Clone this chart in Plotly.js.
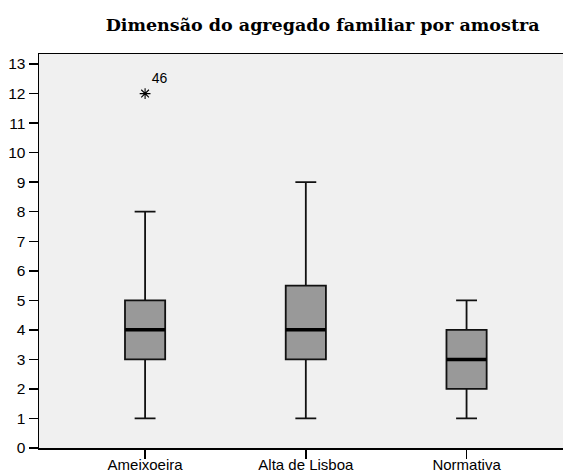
<!DOCTYPE html>
<html>
<head>
<meta charset="utf-8">
<script src="https://cdn.plot.ly/plotly-3.0.1.min.js"></script>
<style>html,body{margin:0;padding:0;background:#fff;}#chart{width:563px;height:475px;}</style>
</head>
<body>
<div id="chart"></div>
<script>
var categories = ["Ameixoeira", "Alta de Lisboa", "Normativa"];
var lowerFence = [1, 1, 1];
var q1 = [3, 3, 2];
var median = [4, 4, 3];
var q3 = [5, 5.5, 4];
var upperFence = [8, 9, 5];
var outlierCategory = ["Ameixoeira"];
var outlierValue = [12];
var outlierLabel = ["46"];
var yTicks = [0,1,2,3,4,5,6,7,8,9,10,11,12,13];

var boxTrace = {
  type: "box",
  x: categories,
  q1: q1,
  median: median,
  q3: q3,
  lowerfence: lowerFence,
  upperfence: upperFence,
  boxpoints: false,
  fillcolor: "#999999",
  line: {color: "#111111", width: 1.8},
  width: 0.25,
  whiskerwidth: 0.52,
  hoverinfo: "skip",
  showlegend: false
};

var medianTrace = {
  type: "scatter",
  mode: "markers",
  x: categories,
  y: median,
  marker: {symbol: "line-ew-open", size: 28.5, color: "#000", line: {color: "#000", width: 3.5}},
  hoverinfo: "skip",
  showlegend: false
};

var outlierTrace = {
  type: "scatter",
  mode: "markers+text",
  x: outlierCategory,
  y: outlierValue,
  text: outlierLabel,
  textposition: "top right",
  textfont: {family: "Liberation Sans, Arial, sans-serif", size: 14, color: "#000"},
  marker: {symbol: "asterisk-open", size: 9, color: "#000", line: {color: "#000", width: 1.1}},
  hoverinfo: "skip",
  showlegend: false
};

var layout = {
  width: 563,
  height: 475,
  margin: {l: 39, r: 0, t: 54, b: 27},
  paper_bgcolor: "#ffffff",
  plot_bgcolor: "#f0f0f0",
  title: {
    text: "Dimensão do agregado familiar por amostra",
    font: {family: "DejaVu Serif, serif", size: 17.5, color: "#000", weight: "bold"},
    x: 0.573, xanchor: "center", y: 0.947, yanchor: "middle"
  },
  xaxis: {
    type: "category",
    range: [-0.66, 2.6],
    showline: true, linecolor: "#000", linewidth: 1.5, mirror: true,
    ticks: "outside", ticklen: 9, tickwidth: 1.5, tickcolor: "#000",
    ticklabelstandoff: -7,
    showgrid: false, zeroline: false,
    tickfont: {family: "Liberation Sans, Arial, sans-serif", size: 15, color: "#000"}
  },
  yaxis: {
    range: [0, 13.34],
    tickvals: yTicks,
    showline: true, linecolor: "#000", linewidth: 1.5,
    ticks: "outside", ticklen: 9, tickwidth: 1.5, tickcolor: "#000",
    showgrid: false, zeroline: false,
    tickfont: {family: "Liberation Sans, Arial, sans-serif", size: 15.5, color: "#000"}
  }
};

Plotly.newPlot("chart", [boxTrace, medianTrace, outlierTrace], layout, {displayModeBar: false, staticPlot: true});
</script>
</body>
</html>
